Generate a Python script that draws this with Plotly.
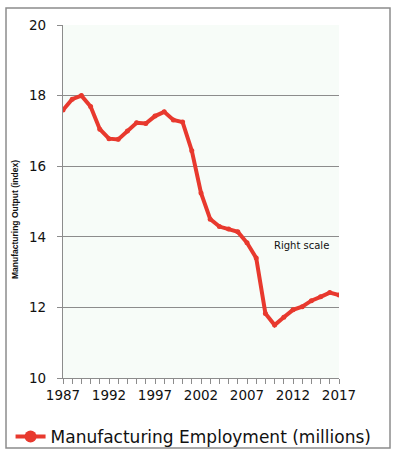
import plotly.graph_objects as go

years = list(range(1987, 2018))
employment = [17.59, 17.90, 18.00, 17.69, 17.05, 16.78, 16.76, 17.00, 17.23, 17.21,
              17.42, 17.54, 17.31, 17.25, 16.44, 15.24, 14.50, 14.29, 14.22, 14.14,
              13.83, 13.40, 11.83, 11.50, 11.72, 11.93, 12.02, 12.19, 12.30, 12.42, 12.35]
x_tick_labels = ["1987", "1992", "1997", "2002", "2007", "2012", "2017"]
series_name = "Manufacturing Employment (millions)"
y_title = "Manufacturing Output (index)"
note = "Right scale"

RED = "#e8392e"
GRID = "#8c8c8c"
FONT = "DejaVu Sans"

tickvals = years
ticktext = [str(y) if str(y) in x_tick_labels else "" for y in years]

fig = go.Figure()
fig.add_trace(go.Scatter(
    x=years, y=employment, mode="lines+markers", name=series_name,
    line=dict(color=RED, width=4), marker=dict(color=RED, size=5),
    showlegend=False,
))
# legend proxy
fig.add_trace(go.Scatter(
    x=[None], y=[None], mode="lines+markers", name=series_name,
    line=dict(color=RED, width=4), marker=dict(color=RED, size=12),
    showlegend=True,
))

fig.update_layout(
    width=395, height=454,
    margin=dict(l=63, r=56, t=25, b=76, autoexpand=False),
    paper_bgcolor="white",
    plot_bgcolor="#f7fcf8",
    font=dict(family=FONT, color="#111111"),
    xaxis=dict(
        range=[1987, 2017], tickmode="array", tickvals=tickvals, ticktext=ticktext,
        showgrid=False, zeroline=False,
        showline=True, linecolor=GRID, linewidth=1.2,
        ticks="outside", ticklen=5, tickcolor=GRID,
        tickfont=dict(size=13.5, family=FONT, color="#111"),
    ),
    yaxis=dict(
        range=[10, 20], dtick=2,
        showgrid=True, gridcolor=GRID, gridwidth=1.2,
        zeroline=False,
        showline=True, linecolor=GRID, linewidth=1.2,
        ticks="outside", ticklen=5, tickcolor=GRID,
        ticklabelstandoff=8,
        tickfont=dict(size=13.5, family=FONT, color="#111"),
    ),
    legend=dict(
        orientation="h", x=-0.19, xanchor="left", y=-0.167, yanchor="middle",
        font=dict(size=17, family=FONT, color="#111"),
        itemwidth=30, bgcolor="rgba(0,0,0,0)",
    ),
    shapes=[dict(
        type="rect", xref="paper", yref="paper",
        x0=-0.2065, x1=1.1848, y0=-0.198, y1=1.048,
        line=dict(color=GRID, width=1.5), layer="below",
    )],
    annotations=[
        dict(text="<b>" + y_title + "</b>", xref="paper", yref="paper",
             x=(15 - 63) / 276, y=(378 - 220) / 353,
             textangle=-90, showarrow=False, xanchor="center", yanchor="middle",
             font=dict(size=8.5, family="Liberation Sans", color="#111")),
        dict(text=note, xref="paper", yref="paper", x=(301 - 63) / 276, y=(378 - 245) / 353,
             showarrow=False, xanchor="center", yanchor="middle",
             font=dict(size=10, family=FONT, color="#111")),
    ],
)

fig.write_html("out.html", config={"displayModeBar": False})
with open("out.html", encoding="utf-8") as f:
    html = f.read()
html = html.replace("<head>", "<head><style>html,body{margin:0;padding:0;overflow:hidden;}</style>", 1)
with open("out.html", "w", encoding="utf-8") as f:
    f.write(html)
